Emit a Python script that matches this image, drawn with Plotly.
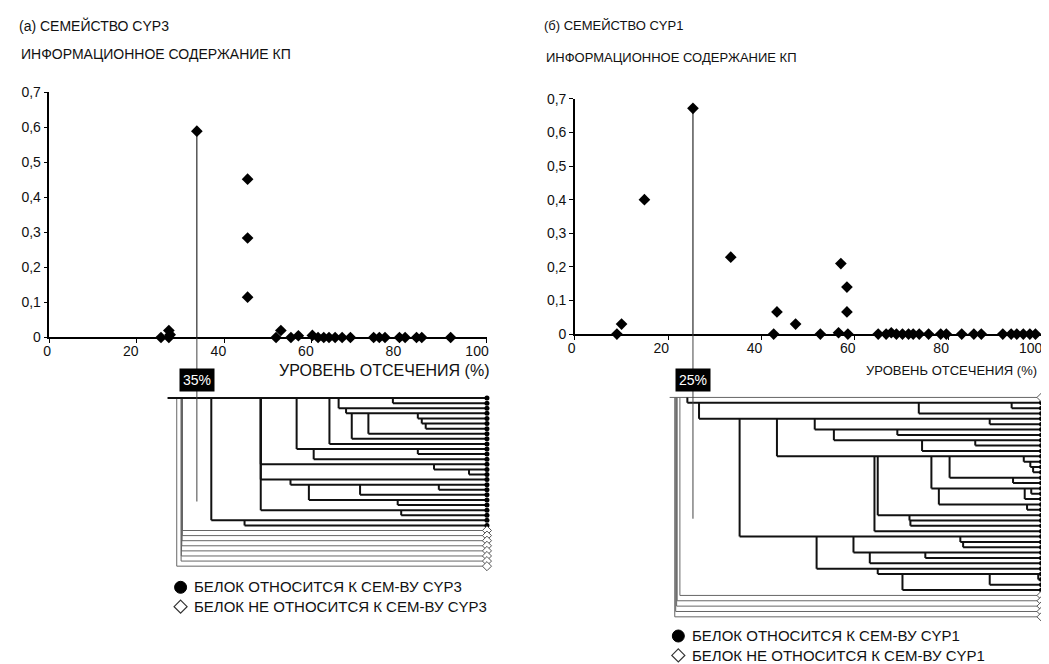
import numpy as np
import plotly.graph_objects as go

# ---------------- DATA ----------------
# Panel (a) CYP3 : information content vs cut-off level
A_CUTOFF = [25.5, 27.3, 27.6, 27.3, 33.7, 45.3, 45.3, 45.3, 51.8, 52.9, 55.2, 56.9,
            60.1, 61.4, 62.7, 63.9, 65.3, 66.9, 68.8, 74.1, 75.4, 76.7, 80.0, 81.3,
            83.9, 85.1, 91.7]
A_INFO = [0.0, 0.02, 0.008, 0.0, 0.589, 0.452, 0.284, 0.115, 0.0, 0.02, 0.0, 0.005,
          0.006, 0.0, 0.0, 0.0, 0.0, 0.0, 0.0, 0.0, 0.0, 0.0, 0.0, 0.0,
          0.0, 0.0, 0.0]
A_CUT_LABEL = "35%"
# dendrogram (a): join level of each leaf (pointer form), None = root row
A_TREE_LEVEL = [None, 78.5, 66.1, 67.8, 84.2, 85.1, 86.0, 72.9, 69.1, 64.0, 56.5, 84.2,
                60.4, 48.3, 87.9, 95.9, 48.3, 55.1, 89.0, 71.0, 59.3, 79.6, 48.3, 80.4,
                37.0, 44.6,
                30.4, 30.35, 30.3, 30.25, 30.2, 30.15, 30.1, 29.1]
A_TREE_MEMBER = [1] * 26 + [0] * 8
A_ROOT_START = 27.0

# Panel (b) CYP1
B_CUTOFF = [9.0, 10.0, 14.9, 25.3, 33.4, 42.6, 43.3, 47.3, 52.6, 56.5, 57.0, 58.3,
            58.3, 58.5, 65.0, 66.7, 67.8, 68.9, 70.2, 71.5, 72.5, 73.8, 75.8, 78.4,
            79.6, 82.9, 85.5, 87.1, 91.7, 93.5, 94.7, 96.1, 97.5, 98.7]
B_INFO = [0.0, 0.03, 0.40, 0.672, 0.229, 0.0, 0.066, 0.03, 0.0, 0.004, 0.21, 0.14,
          0.066, 0.0, 0.0, 0.0, 0.004, 0.0, 0.0, 0.0, 0.0, 0.0, 0.0, 0.0,
          0.0, 0.0, 0.0, 0.0, 0.0, 0.0, 0.0, 0.0, 0.0, 0.0]
B_CUT_LABEL = "25%"
B_TREE_LEVEL = [None, 24.1, 93.6, 73.7, 26.6, 88.9, 51.4, 69.1, 55.5, 85.8, 74.4, 43.3,
                96.2, 97.6, 98.2, 80.3, 93.9, 76.4, 97.8, 96.4, 78.0, 96.9, 64.9, 71.7,
                71.9, 64.2, 35.3, 82.6, 83.2, 59.7, 75.1, 63.2, 51.8, 64.9, 99.3, 88.9,
                70.2,
                22.5, 21.9, 21.8, 21.6, 21.4]
B_TREE_MEMBER = [0] + [1] * 36 + [0] * 5
B_ROOT_START = 20.3

LEAF_LEVEL = 100.0

Y_TICKS = [0, 0.1, 0.2, 0.3, 0.4, 0.5, 0.6, 0.7]
Y_TICK_TEXT = ["0", "0,1", "0,2", "0,3", "0,4", "0,5", "0,6", "0,7"]
X_TICKS = [0, 20, 40, 60, 80, 100]

TITLE_A = "(а) СЕМЕЙСТВО CYP3"
TITLE_B = "(б) СЕМЕЙСТВО CYP1"
YTITLE = "ИНФОРМАЦИОННОЕ СОДЕРЖАНИЕ КП"
XTITLE = "УРОВЕНЬ ОТСЕЧЕНИЯ (%)"
LEG_A = ["БЕЛОК ОТНОСИТСЯ К СЕМ-ВУ CYP3", "БЕЛОК НЕ ОТНОСИТСЯ К СЕМ-ВУ CYP3"]
LEG_B = ["БЕЛОК ОТНОСИТСЯ К СЕМ-ВУ CYP1", "БЕЛОК НЕ ОТНОСИТСЯ К СЕМ-ВУ CYP1"]

# ---------------- LAYOUT HELPERS ----------------
W, H = 1060, 672
# screen placement observed for this page: screen = offset + scale * figure px
SX0, SXS = 8.0, 1.0
SY0, SYS = 13.3, 0.982
FONT = "Liberation Sans, Arial, sans-serif"
INK = "#111"


def fx(p):
    return min(1.0, max(0.0, (p - SX0) / SXS / W))


def fy(p):
    return min(1.0, max(0.0, 1 - (p - SY0) / SYS / H))


def tree_segments(levels, members, root_start, leaf):
    thick_x, thick_y, thin_x, thin_y = [], [], [], []
    eff = [-np.inf if v is None else v for v in levels]
    for i, lv in enumerate(levels):
        tx, ty = (thick_x, thick_y) if members[i] else (thin_x, thin_y)
        start = root_start if lv is None else lv
        tx += [start, leaf, None]
        ty += [i, i, None]
        if lv is not None:
            parent = max(j for j in range(i) if eff[j] < lv)
            tx += [lv, lv, None]
            ty += [parent, i, None]
    return thick_x, thick_y, thin_x, thin_y


fig = go.Figure()

panels = [
    dict(cut=A_CUTOFF, info=A_INFO, lev=A_TREE_LEVEL, mem=A_TREE_MEMBER, root=A_ROOT_START,
         sx="x", sy="y", dx="x2", dy="y2"),
    dict(cut=B_CUTOFF, info=B_INFO, lev=B_TREE_LEVEL, mem=B_TREE_MEMBER, root=B_ROOT_START,
         sx="x3", sy="y3", dx="x4", dy="y4"),
]

for p in panels:
    cx = np.array(p["cut"])
    cy = np.array(p["info"])
    k = int(np.argmax(cy))
    fig.add_trace(go.Scatter(x=[cx[k], cx[k]], y=[cy[k], 0], mode="lines",
                             line=dict(color="black", width=1), xaxis=p["sx"], yaxis=p["sy"],
                             showlegend=False, hoverinfo="skip"))
    fig.add_trace(go.Scatter(x=cx, y=cy, mode="markers",
                             marker=dict(symbol="diamond", size=9, color="black"),
                             cliponaxis=False, xaxis=p["sx"], yaxis=p["sy"], showlegend=False))
    tkx, tky, tnx, tny = tree_segments(p["lev"], p["mem"], p["root"], LEAF_LEVEL)
    fig.add_trace(go.Scatter(x=tnx, y=tny, mode="lines", line=dict(color="#666", width=1),
                             xaxis=p["dx"], yaxis=p["dy"], showlegend=False, hoverinfo="skip"))
    fig.add_trace(go.Scatter(x=tkx, y=tky, mode="lines", line=dict(color="#111", width=2),
                             xaxis=p["dx"], yaxis=p["dy"], showlegend=False, hoverinfo="skip"))
    rows = np.arange(len(p["lev"]))
    mem = np.array(p["mem"])
    fig.add_trace(go.Scatter(x=[LEAF_LEVEL] * int(mem.sum()), y=rows[mem == 1], mode="markers",
                             marker=dict(symbol="circle", size=5, color="black"),
                             cliponaxis=False, xaxis=p["dx"], yaxis=p["dy"], showlegend=False))
    fig.add_trace(go.Scatter(x=[LEAF_LEVEL] * int((mem == 0).sum()), y=rows[mem == 0], mode="markers",
                             marker=dict(symbol="diamond", size=7, color="white",
                                         line=dict(color="#555", width=1)),
                             cliponaxis=False, xaxis=p["dx"], yaxis=p["dy"], showlegend=False))

# domains (target screen pixels -> paper)
A_SX = [fx(42.7), fx(484)]
B_SX = [fx(572.7), fx(1043.3)]
A_SY = [fy(336.7), fy(90)]
B_SY = [fy(333.3), fy(96.7)]
A_DY = [fy(569.3), fy(395.1)]
B_DY = [fy(620.4), fy(394.3)]

axis_common = dict(ticks="outside", ticklen=4, tickwidth=1, tickcolor="black", showline=True,
                   linecolor="black", linewidth=1.5, showgrid=False, zeroline=False,
                   tickfont=dict(family=FONT, size=14, color=INK))
scat_xa = dict(range=[0, 100], tickvals=X_TICKS, ticklabelposition="outside left",
               ticklabelshift=3, **axis_common)
scat_xb = dict(range=[0, 100], tickvals=X_TICKS, ticklabelposition="outside left",
               ticklabelshift=2, **axis_common)
scat_y = dict(range=[0, 0.7], tickvals=Y_TICKS, ticktext=Y_TICK_TEXT, **axis_common)
dend_x = dict(range=[0, 100], visible=False, showgrid=False, zeroline=False)

fig.update_layout(
    width=W, height=H, autosize=False, margin=dict(l=0, r=0, t=0, b=0, pad=0),
    paper_bgcolor="white", plot_bgcolor="white", showlegend=False,
    xaxis=dict(domain=A_SX, anchor="y", **scat_xa),
    yaxis=dict(domain=A_SY, anchor="x", **scat_y),
    xaxis2=dict(domain=A_SX, anchor="y2", **dend_x),
    yaxis2=dict(domain=A_DY, anchor="x2", range=[len(A_TREE_LEVEL) - 0.5, -0.5], visible=False),
    xaxis3=dict(domain=B_SX, anchor="y3", **scat_xb),
    yaxis3=dict(domain=B_SY, anchor="x3", **scat_y),
    xaxis4=dict(domain=B_SX, anchor="y4", **dend_x),
    yaxis4=dict(domain=B_DY, anchor="x4", range=[len(B_TREE_LEVEL) - 0.5, -0.5], visible=False),
)

# cut-off line crossing the gap down into the dendrogram
cut_a = A_CUTOFF[int(np.argmax(A_INFO))]
cut_b = B_CUTOFF[int(np.argmax(B_INFO))]
fig.add_shape(type="line", xref="x", yref="paper", x0=cut_a, x1=cut_a, y0=fy(501.7), y1=A_SY[0],
              line=dict(color="#444", width=1))
fig.add_shape(type="line", xref="x3", yref="paper", x0=cut_b, x1=cut_b, y0=fy(519), y1=B_SY[0],
              line=dict(color="#444", width=1))


def text(x, y, s, size, anchor="left", color=INK):
    fig.add_annotation(x=x, y=y, xref="paper", yref="paper", text=s, showarrow=False,
                       xanchor=anchor, yanchor="middle", borderpad=0, align="left",
                       font=dict(family=FONT, size=size, color=color))


text(fx(11), fy(23), TITLE_A, 14)
text(fx(13), fy(52), YTITLE, 14)
text(fx(541), fy(23), TITLE_B, 13)
text(fx(543), fy(55), YTITLE, 13)
text(fx(488), fy(370), XTITLE, 16, anchor="right")
text(fx(1040), fy(370), XTITLE, 13, anchor="right")

for cut, lab, xr in [(cut_a, A_CUT_LABEL, "x"), (cut_b, B_CUT_LABEL, "x3")]:
    fig.add_annotation(x=cut, y=fy(379), xref=xr, yref="paper", text=lab, showarrow=False,
                       xanchor="center", yanchor="middle", bgcolor="black", borderpad=3,
                       font=dict(family=FONT, size=14, color="white"))

# legends: two-line text block plus drawn symbols
LEG_GAP = 19.5
for (lx, ly, labels) in [(175, 588, LEG_A), (677, 637, LEG_B)]:
    text(fx(lx + 13), fy(ly + LEG_GAP / 2), "<br>".join(labels), 15)
    fig.add_shape(type="circle", xref="paper", yref="paper", xsizemode="pixel", ysizemode="pixel",
                  xanchor=fx(lx), yanchor=fy(ly), x0=-6, x1=6, y0=-6, y1=6,
                  fillcolor="black", line=dict(color="black", width=1))
    fig.add_shape(type="path", xref="paper", yref="paper", xsizemode="pixel", ysizemode="pixel",
                  xanchor=fx(lx), yanchor=fy(ly + LEG_GAP),
                  path="M 0 6.5 L 6.5 0 L 0 -6.5 L -6.5 0 Z",
                  fillcolor="white", line=dict(color="#333", width=1.2))

fig.write_html("out.html")
